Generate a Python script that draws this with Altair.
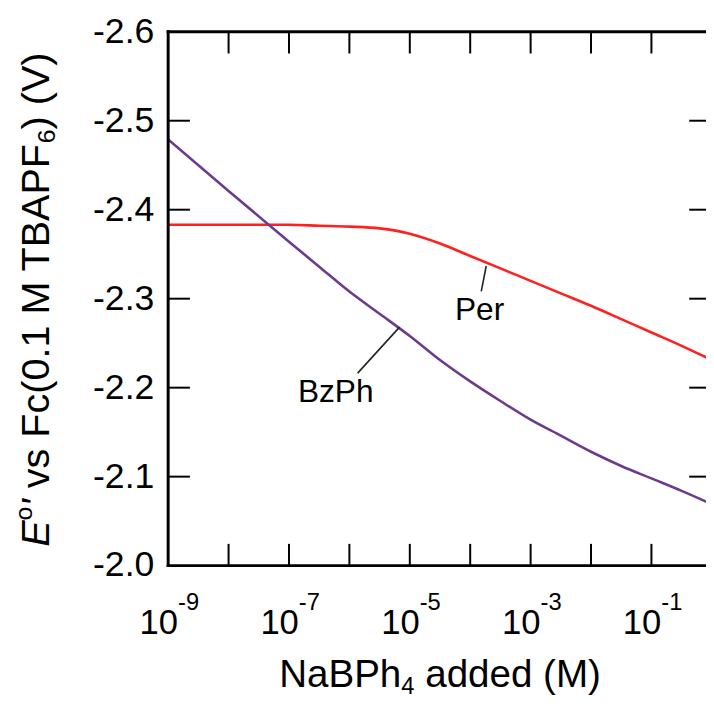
import altair as alt
import pandas as pd

# ---------------- data ----------------
log_conc = [-9, -8, -7, -6.5, -6, -5.5, -5, -4.5, -4, -3.5, -3, -2.5, -2, -1.5, -1, -0.5, 0]
per_E = [-2.383, -2.383, -2.383, -2.382, -2.381, -2.379, -2.373, -2.362, -2.348, -2.334,
         -2.320, -2.306, -2.292, -2.277, -2.262, -2.247, -2.231]
bzph_E = [-2.479, -2.421, -2.364, -2.336, -2.308, -2.283, -2.258, -2.231, -2.207, -2.185,
          -2.164, -2.146, -2.128, -2.112, -2.098, -2.084, -2.069]
series_names = ["Per", "BzPh"]
series_colors = ["#ff2020", "#6c3b8e"]

x_tick_exps = [-8, -7, -6, -5, -4, -3, -2, -1]
x_label_exps = [-9, -7, -5, -3, -1]
y_label_values = [-2.6, -2.5, -2.4, -2.3, -2.2, -2.1, -2.0]
y_label_texts = ["-2.6", "-2.5", "-2.4", "-2.3", "-2.2", "-2.1", "-2.0"]
y_inner_ticks = [-2.5, -2.4, -2.3, -2.2, -2.1]

annot_text = ["Per", "BzPh"]
annot_logx = [-3.845, -6.226]
annot_E = [-2.2756, -2.1844]
leader_logx = [-3.735, -5.17]
leader_E = [-2.3367, -2.268]
leader_logx2 = [-3.817, -5.863]
leader_E2 = [-2.3081, -2.2163]

# ---------------- layout constants ----------------
W, H = 544, 540
FONT = "Liberation Sans"
X_DOMAIN = [1e-9, 10 ** -0.0966]
Y_DOMAIN = [-2.6, -2.0]

xs = alt.Scale(type="log", domain=X_DOMAIN, nice=False)
ys = alt.Scale(domain=Y_DOMAIN, reverse=True, nice=False, zero=False)

# Arial / Liberation Sans advance widths (per 1000 em)
ADV = {" ": 278, "'": 191, "(": 333, ")": 333, ".": 278, "0": 556, "1": 556, "4": 556, "6": 556,
       "A": 667, "B": 667, "E": 667, "F": 611, "M": 833, "N": 722, "P": 667, "T": 611, "V": 667,
       "a": 556, "c": 500, "d": 556, "e": 556, "h": 556, "o": 556, "s": 500, "v": 500}


def tw(s, size):
    return sum(ADV.get(c, 556) for c in s) / 1000.0 * size


# ---------------- tables ----------------
rows = []
for name, vals in zip(series_names, [per_E, bzph_E]):
    for lx, v in zip(log_conc, vals):
        rows.append({"conc": 10 ** lx, "E": v, "series": name})
lines_df = pd.DataFrame(rows)

xt_df = pd.DataFrame({"conc": [10 ** e for e in x_tick_exps]})
xl_df = pd.DataFrame({"conc": [10 ** e for e in x_label_exps],
                      "sup": [str(e) for e in x_label_exps]})
yl_df = pd.DataFrame({"E": y_label_values, "t": y_label_texts})
yt_df = pd.DataFrame({"E": y_inner_ticks})
ann_df = pd.DataFrame({"conc": [10 ** v for v in annot_logx], "E": annot_E, "label": annot_text})
lead_df = pd.DataFrame({"c1": [10 ** v for v in leader_logx], "e1": leader_E,
                        "c2": [10 ** v for v in leader_logx2], "e2": leader_E2})
one = pd.DataFrame({"k": [0]})

NOAX = None

lines = alt.Chart(lines_df).mark_line(strokeWidth=2.6, interpolate="monotone", clip=True).encode(
    x=alt.X("conc:Q", scale=xs, axis=NOAX),
    y=alt.Y("E:Q", scale=ys, axis=NOAX),
    color=alt.Color("series:N", scale=alt.Scale(domain=series_names, range=series_colors), legend=None),
    detail="series:N",
)

frame_style = dict(color="black", strokeWidth=3, strokeCap="square")
top_line = alt.Chart(one).mark_rule(**frame_style).encode(
    y=alt.YDatum(Y_DOMAIN[0], type="quantitative", scale=ys, axis=NOAX))
bottom_line = alt.Chart(one).mark_rule(**frame_style).encode(
    y=alt.YDatum(Y_DOMAIN[1], type="quantitative", scale=ys, axis=NOAX))
left_line = alt.Chart(one).mark_rule(**frame_style).encode(
    x=alt.XDatum(X_DOMAIN[0], type="quantitative", scale=xs, axis=NOAX))

tick_style = dict(color="black", strokeWidth=2)
TL = 22
bottom_ticks = alt.Chart(xt_df).mark_rule(**tick_style).encode(
    x=alt.X("conc:Q", scale=xs, axis=NOAX), y=alt.value(H), y2=alt.value(H - TL))
top_ticks = alt.Chart(xt_df).mark_rule(**tick_style).encode(
    x=alt.X("conc:Q", scale=xs, axis=NOAX), y=alt.value(0), y2=alt.value(TL))
left_ticks = alt.Chart(yt_df).mark_rule(**tick_style).encode(
    y=alt.Y("E:Q", scale=ys, axis=NOAX), x=alt.value(0), x2=alt.value(TL))
right_ticks = alt.Chart(yt_df).mark_rule(**tick_style).encode(
    y=alt.Y("E:Q", scale=ys, axis=NOAX), x=alt.value(W + 5 - TL), x2=alt.value(W))

# y tick labels
ylabels = alt.Chart(yl_df).mark_text(font=FONT, fontSize=36, align="right", baseline="middle",
                                     color="black").encode(
    y=alt.Y("E:Q", scale=ys, axis=NOAX), x=alt.value(-14), text="t:N")

# x tick labels: "10" with superscript exponent
lab10 = alt.Chart(xl_df).mark_text(text="10", font=FONT, fontSize=35, align="right",
                                   baseline="alphabetic", dx=10, color="black").encode(
    x=alt.X("conc:Q", scale=xs, axis=NOAX), y=alt.value(609))
labsup = alt.Chart(xl_df).mark_text(font=FONT, fontSize=24, align="left",
                                    baseline="alphabetic", dx=10, color="black").encode(
    x=alt.X("conc:Q", scale=xs, axis=NOAX), y=alt.value(585), text="sup:N")

# annotations
ann = alt.Chart(ann_df).mark_text(font=FONT, fontSize=32, align="center", baseline="alphabetic",
                                  color="black").encode(
    x=alt.X("conc:Q", scale=xs, axis=NOAX), y=alt.Y("E:Q", scale=ys, axis=NOAX), text="label:N")
leaders = alt.Chart(lead_df).mark_rule(color="#222222", strokeWidth=1.6).encode(
    x=alt.X("c1:Q", scale=xs, axis=NOAX), y=alt.Y("e1:Q", scale=ys, axis=NOAX),
    x2="c2:Q", y2="e2:Q")

SS = 24

# x axis title: NaBPh4 added (M)
XTS = 39
xt_parts = [("NaBPh", XTS, 0), ("4", SS, 7), (" added (M)", XTS, 0)]
total = sum(tw(s, f) for s, f, _ in xt_parts)
cx = 275 - total / 2
xtitle_layers = []
for s, f, dy in xt_parts:
    lead = len(s) - len(s.lstrip(" "))
    xtitle_layers.append(alt.Chart(one).mark_text(
        text=s.strip(" "), font=FONT, fontSize=f, align="left", baseline="alphabetic",
        color="black").encode(
        x=alt.value(cx + tw(" " * lead, f)), y=alt.value(663 + dy)))
    cx += tw(s, f)

# y axis title (rotated): E°' vs Fc(0.1 M TBAPF6) (V)
YTS = 40
base_x = -121
yt_parts = [("E", YTS, 0, "italic"), ("o", SS + 1, -17, "normal"), ("'", YTS, 0, "italic"),
            (" vs Fc(0.1 M TBAPF", YTS, 0, "normal"), ("6", SS + 1, 7, "normal"),
            (") (V)", YTS, 0, "normal")]
ytotal = sum(tw(s, f) for s, f, _, _ in yt_parts)
cy = 271 + ytotal / 2
ytitle_layers = []
for s, f, off, style in yt_parts:
    lead = len(s) - len(s.lstrip(" "))
    ytitle_layers.append(alt.Chart(one).mark_text(
        text=s.strip(" "), font=FONT, fontSize=f, fontStyle=style, angle=270, align="left",
        baseline="alphabetic", color="black").encode(
        x=alt.value(base_x + off), y=alt.value(cy - tw(" " * lead, f))))
    cy -= tw(s, f)

chart = alt.layer(
    lines, top_line, bottom_line, left_line,
    bottom_ticks, top_ticks, left_ticks, right_ticks,
    ylabels, lab10, labsup, ann, leaders, *xtitle_layers, *ytitle_layers,
).properties(
    width=W, height=H,
    autosize=alt.AutoSizeParams(type="none"),
    padding={"left": 162, "top": 20, "right": 0, "bottom": 140},
    background="white",
).configure_view(stroke=None)

chart.save("out.html", embed_options={"renderer": "svg", "actions": False})
